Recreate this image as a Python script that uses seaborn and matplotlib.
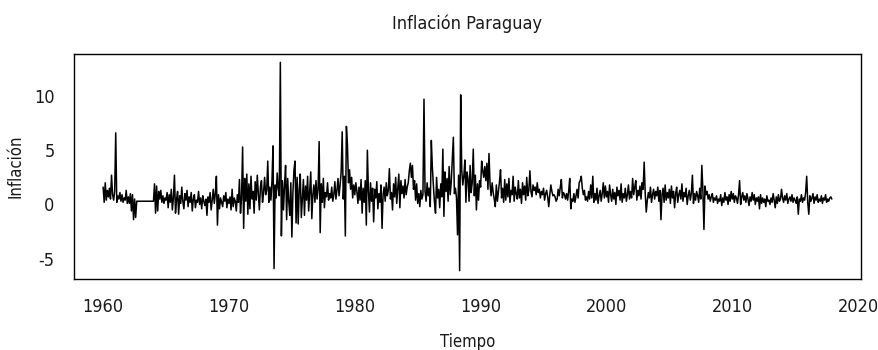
import numpy as np
import pandas as pd
import matplotlib
matplotlib.use("Agg")
import matplotlib.pyplot as plt
import seaborn as sns

# Monthly inflation values (%), Jan 1960 - Dec 2017
infl_1960s = [
    1.6, 0.2, 2.0, 0.4, 1.3, 0.7, 1.5, 0.5, 2.7, 0.9, 0.4, 1.2,
    6.6, 0.2, 0.8, 0.5, 1.1, 0.3, 0.9, 0.2, 0.6, 0.4, 1.3, 0.1,
    0.7, 0.1, 1.0, -0.6, 0.9, -1.4, 0.5, -1.2, 0.3, 0.3, 0.3, 0.3,
    0.3, 0.3, 0.3, 0.3, 0.3, 0.3, 0.3, 0.3, 0.3, 0.3, 0.3, 0.3,
    0.3, 1.9, -0.8, 1.7, -0.6, 1.2, 0.5, 1.3, 0.2, 0.8, 0.1, 0.6,
    0.4, 1.1, -0.3, 0.9, 0.2, 1.4, -0.5, 0.6, 2.7, -0.8, 0.5, 1.2,
    -0.9, 0.8, 0.1, 1.6, 0.3, -0.4, 1.0, 0.4, 1.3, -0.2, 0.7, 0.2,
    1.1, -0.6, 0.5, 0.9, -0.3, 0.4, 0.2, 1.2, 0.0, 0.6, -0.4, 0.8,
    0.3, -0.1, 0.5, -1.0, 0.7, 0.2, 1.1, -0.5, 0.4, 1.4, 0.1, 1.0,
    2.6, -1.9, 0.9, -0.4, 0.6, 0.2, -0.2, 0.8, 0.3, 1.1, -0.3, 0.5,
]
infl_1970s = [
    0.1, 0.7, -0.5, 1.4, -0.2, 0.6, 0.3, -0.6, 0.9, 0.2, 2.3, -0.8,
    0.6, 5.3, -2.2, 2.4, 0.3, 2.8, -0.9, 1.9, -0.4, 2.6, 0.5, 1.2,
    -0.8, 2.1, 0.4, 2.7, 1.0, -0.5, 1.6, 2.2, 0.2, 1.1, 2.5, 0.9,
    1.3, 4.0, 0.2, 1.6, 0.4, 2.1, 5.4, -5.9, 1.8, 0.6, 2.9, 1.5,
    0.8, 13.1, -2.9, 2.2, -0.5, 1.8, 3.6, -1.4, 2.4, 0.3, -1.0, 2.0,
    -3.0, 1.1, 3.2, 4.0, -1.7, 2.5, -1.8, 1.4, 2.8, -1.2, 0.6, 2.3,
    -1.0, 1.7, 0.4, 2.6, -0.6, 1.2, 3.0, -1.3, 0.9, 1.8, 0.2, 2.2,
    0.5, 1.4, 5.8, -2.6, 1.9, 0.2, 2.4, -0.3, 1.1, 0.7, 2.0, 0.4,
    1.0, 0.6, 1.6, 0.3, 0.9, 2.1, 0.5, 1.3, 2.4, 0.8, 1.8, 3.0,
    6.7, 0.5, 2.6, -2.9, 7.2, 5.5, 2.0, 3.2, 1.4, 2.5, 0.6, 1.8,
]
infl_1980s = [
    0.9, 2.0, 1.2, 0.1, 1.6, 0.4, 2.3, -0.8, 1.5, 0.2, 2.2, -1.9,
    5.0, 1.2, -0.7, 2.0, 0.3, 1.5, -1.6, 1.4, 0.6, 2.1, -0.4, 1.0,
    0.2, 1.8, -2.2, 0.9, 1.6, 0.3, 2.0, 0.8, 1.3, 3.3, 0.5, 1.1,
    -0.5, 1.9, 0.7, 2.5, 0.1, 1.4, 2.8, -0.3, 2.2, 1.0, 1.7, 0.6,
    2.3, 0.9, 1.6, 2.0, 3.1, 3.8, 2.5, 3.6, 1.4, 2.2, 0.4, 1.9,
    0.1, 1.0, -0.2, 1.3, 0.5, 0.9, 9.7, 1.2, 0.3, 2.0, 0.8, 1.5,
    -0.2, 5.9, 3.4, 1.7, 0.2, -0.8, 2.5, 0.6, 1.4, -0.3, 1.9, 0.7,
    5.1, -1.1, 3.0, 1.2, 2.4, 0.3, 3.5, 0.9, 2.1, 4.2, 6.2, 1.0,
    1.5, 0.6, -2.8, 2.7, -6.1, 10.1, 3.2, 1.8, 2.6, 4.1, 0.2, 3.0,
    2.4, 0.3, 3.6, 1.1, 2.0, 5.1, 0.8, 2.7, -0.5, 1.9, 0.4, 2.2,
]
infl_1990s = [
    1.6, 4.0, 3.1, 2.5, 3.5, 2.2, 3.8, 1.4, 4.7, 1.9, 0.8, 2.0,
    1.1, 0.5, -0.2, 1.8, 0.3, 1.2, 2.1, 3.2, 0.6, 1.5, 0.2, 2.3,
    0.4, 1.9, 0.7, 2.4, 0.2, 1.3, 0.9, 2.6, 0.3, 1.6, 1.0, 0.5,
    2.2, 0.6, 1.4, 0.1, 2.0, 0.9, 1.7, 0.4, 2.5, 0.8, 1.3, 3.1,
    1.2, 0.7, 1.8, 1.3, 1.6, 0.9, 2.0, 1.1, 1.4, 0.6, 1.2, 0.9,
    1.5, 0.4, 1.0, 1.3, 0.7, -0.2, 0.9, 1.8, 1.2, 0.8, 0.9, 0.7,
    0.3, 0.5, 1.4, 0.8, 1.6, 2.3, 0.6, 1.1, 0.9, 0.5, 1.0, 0.4,
    1.2, 2.4, -0.4, 0.5, 0.3, 1.0, 0.2, 0.8, 1.4, 0.6, 2.0, 2.2,
    2.6, 1.5, 0.9, 1.3, 0.4, 0.7, 0.3, 1.2, 0.5, 1.8, 0.6, 2.6,
    0.2, 1.0, 0.4, 1.5, 0.1, 0.8, 1.3, 0.3, 1.0, 2.0, 0.6, 1.7,
]
infl_2000s = [
    0.7, 1.2, 0.2, 1.8, 0.9, 0.3, 1.4, 0.5, 1.1, 0.0, 1.6, 0.8,
    1.3, 0.4, 1.9, 0.2, 1.0, 0.6, 1.5, 0.3, 0.9, 1.8, 0.5, 1.2,
    0.6, 2.4, 0.9, 1.6, 2.2, 0.4, 1.3, 0.8, 1.7, 0.5, 2.0, 1.4,
    3.9, 1.0, -0.7, 0.4, 1.1, 0.6, 1.6, 0.2, 0.9, 1.4, 0.5, 1.2,
    0.8, 1.6, 0.3, 1.3, -1.4, 0.9, 1.5, 0.2, 1.8, 0.4, 1.1, 0.6,
    1.4, 0.1, 1.7, 0.6, 1.2, -0.3, 1.0, 1.6, 0.2, 0.9, 1.3, 0.5,
    1.9, 0.3, 1.1, 0.7, 1.5, 0.0, 0.8, 1.3, 0.4, 1.0, 2.7, 0.1,
    1.0, 0.4, 1.2, 0.8, 0.2, 1.5, 0.5, 3.6, 1.3, -2.3, 1.7, 0.9,
    1.2, 0.5, 0.9, 0.3, 0.7, 1.0, 0.2, 0.6, 0.4, 0.8, 0.1, 0.5,
    0.3, 0.9, -0.1, 0.6, 0.2, 1.1, 0.4, 0.7, 0.0, 0.9, 0.3, 1.2,
]
infl_2010s = [
    0.5, 1.0, 0.2, 0.8, 0.6, 0.1, 0.9, 2.2, 0.0, 0.7, 1.1, 0.4,
    0.8, 0.2, 1.0, 0.5, -0.1, 0.7, 0.3, 1.1, 0.4, 0.9, 0.0, 0.6,
    0.3, 0.7, -0.4, 0.9, 0.1, 0.6, 0.2, 0.5, -0.2, 0.8, 0.3, 0.4,
    0.0, 0.6, 0.2, 1.0, 0.4, -0.3, 0.7, 0.1, 0.9, 0.3, 0.5, 1.4,
    0.6, 0.2, 0.8, 0.4, 1.0, 0.1, 0.5, 0.7, 0.3, 0.9, 0.2, 0.6,
    0.4, 0.1, 0.7, -0.9, 0.5, 0.3, 0.9, 0.2, 0.6, 0.4, 1.1, 2.6,
    0.2, -0.9, 0.8, 0.3, 0.6, 1.0, 0.1, 0.7, 0.4, 0.9, 0.2, 0.5,
    0.3, 0.8, 0.1, 0.6, 0.4, 0.9, 0.2, 0.5, 0.3, 0.6, 0.7, 0.5,
]
start_year = 1960
x_ticks = [1960, 1970, 1980, 1990, 2000, 2010, 2020]
y_ticks = [-5, 0, 5, 10]
title = "Inflación Paraguay"
xlabel = "Tiempo"
ylabel = "Inflación"

values = infl_1960s + infl_1970s + infl_1980s + infl_1990s + infl_2000s + infl_2010s
time = start_year + np.arange(len(values)) / 12.0
df = pd.DataFrame({"Tiempo": time, "Inflacion": values})

sns.set_style("white")
plt.rcParams["font.family"] = ["DejaVu Sans"]
plt.rcParams["font.stretch"] = "condensed"
plt.rcParams["axes.unicode_minus"] = False
txt = dict(fontstretch="condensed", color="#1a1a1a")

fig = plt.figure(figsize=(8.79, 3.5), dpi=100)
ax = fig.add_axes([74 / 879, 1 - 279 / 350, (861 - 74) / 879, (279 - 54) / 350])
sns.lineplot(data=df, x="Tiempo", y="Inflacion", ax=ax, color="black", linewidth=1.1)

tmin, tmax = time.min(), time.max()
r = tmax - tmin
ax.set_xlim(tmin - 0.04 * r, tmax + 0.04 * r)
vmin, vmax = min(values), max(values)
rv = vmax - vmin
ax.set_ylim(vmin - 0.04 * rv, vmax + 0.04 * rv)

ax.set_xticks(x_ticks)
ax.set_yticks(y_ticks)
ax.set_xticklabels([str(v) for v in x_ticks], fontsize=13, **txt)
ax.set_yticklabels([str(v) for v in y_ticks], fontsize=13, **txt)
ax.tick_params(axis="both", direction="out", length=9, width=1, color="black", pad=5)
for s in ax.spines.values():
    s.set_color("black")
    s.set_linewidth(1.0)

ax.set_xlabel(xlabel, fontsize=12, labelpad=12, **txt)
ax.set_ylabel(ylabel, fontsize=12, labelpad=7, **txt)
fig.text((74 + 861) / 2 / 879, 1 - 24 / 350, title, ha="center", va="center",
         fontsize=13, **txt)

fig.savefig("out.png", dpi=100)
